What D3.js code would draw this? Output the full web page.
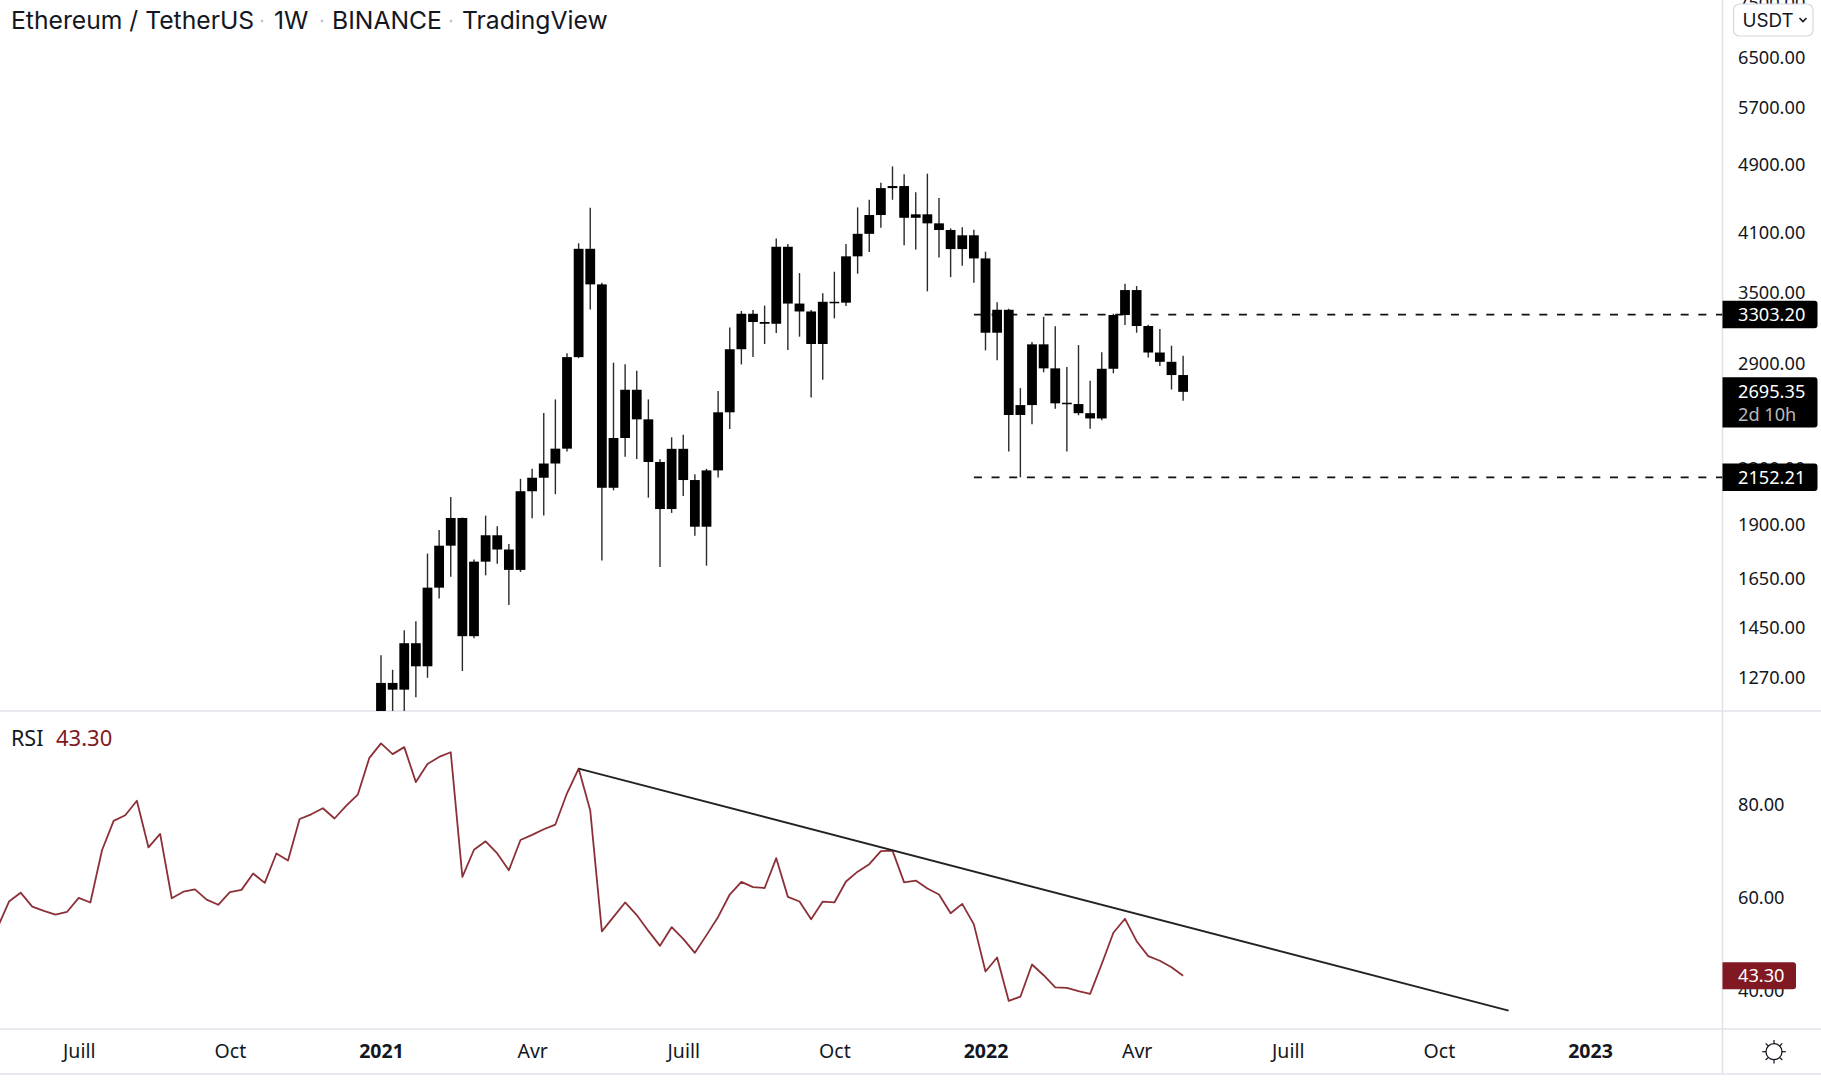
<!DOCTYPE html>
<html lang="fr">
  <head>
    <meta charset="UTF-8" />
    <title>Ethereum / TetherUS</title>
    <style>
      html,
      body {
        margin: 0;
        background: #fff;
      }
      svg {
        display: block;
      }
      text {
        font-family: "Noto Sans", sans-serif;
        fill: #131722;
      }
      .title {
        font-family: Inter, sans-serif;
        font-size: 24.7px;
      }
      .domain,
      .tick line {
        display: none;
      }
    </style>
    <script src="https://cdn.jsdelivr.net/npm/d3@7"></script>
  </head>
  <body>
    <div id="chart"></div>
    <script>
      // weekly bars, index 0 = first week of 2021
      const weekOpen = [
        1120, 1253, 1231, 1391, 1309, 1610, 1798, 1934, 1417, 1724,
        1848, 1780, 1687, 2075, 2150, 2232, 2321, 2953, 3927, 3576,
        2094, 2387, 2710, 2507, 2241, 1980, 2320, 2137, 1890, 2192,
        2554, 3015, 3310, 3239, 3224, 3948, 3400, 3330, 3057, 3416,
        3408, 3850, 4085, 4292, 4607, 4632, 4261, 4300, 4199, 4126,
        3924, 4069, 3829, 3149, 3345, 2536, 2603, 3054, 2867, 2619,
        2610, 2548, 2513, 2864, 3299, 3523, 3205, 2989, 2917, 2817,
      ];
      const weekHigh = [
        1348, 1297, 1439, 1474, 1761, 1874, 2044, 1936, 1734, 1946,
        1892, 1806, 2144, 2201, 2549, 2642, 2983, 3984, 4374, 3592,
        2910, 2898, 2849, 2642, 2257, 2391, 2408, 2170, 2201, 2701,
        3193, 3334, 3343, 3382, 4036, 3977, 3684, 3343, 3493, 3697,
        3977, 4379, 4468, 4673, 4878, 4777, 4556, 4785, 4488, 4144,
        4155, 4130, 3897, 3411, 3353, 2722, 3073, 3284, 3202, 2877,
        3048, 2775, 2991, 3310, 3582, 3560, 3216, 3179, 3043, 2964,
      ];
      const weekLow = [
        1060, 1150, 1161, 1207, 1270, 1565, 1657, 1293, 1409, 1663,
        1714, 1538, 1678, 1932, 1947, 2059, 2303, 2945, 3348, 1729,
        2080, 2272, 2258, 2040, 1700, 1960, 2049, 1846, 1706, 2152,
        2444, 2897, 2955, 3057, 3146, 3009, 3116, 2656, 2783, 3270,
        3378, 3678, 3894, 4150, 4468, 3963, 3920, 3511, 3839, 3645,
        3755, 3592, 3006, 2928, 2303, 2152, 2475, 2837, 2578, 2303,
        2534, 2445, 2501, 2830, 3213, 3149, 2951, 2884, 2712, 2633,
      ];
      const weekClose = [
        1253, 1231, 1391, 1309, 1610, 1798, 1934, 1417, 1724, 1848,
        1780, 1687, 2075, 2150, 2232, 2321, 2953, 3927, 3576, 2094,
        2387, 2710, 2507, 2241, 1980, 2320, 2137, 1890, 2192, 2554,
        3015, 3310, 3239, 3224, 3948, 3400, 3330, 3057, 3416, 3408,
        3850, 4085, 4292, 4607, 4632, 4261, 4300, 4199, 4126, 3924,
        4069, 3829, 3149, 3345, 2536, 2603, 3054, 2867, 2615, 2610,
        2548, 2513, 2864, 3299, 3523, 3205, 2989, 2917, 2817, 2695.35,
      ];

      // rsi starts 33 bars before the first candle
      const rsiFirstIndex = -33;
      const rsiValues = [
        53.5, 59.2, 61.1, 58.1, 57.2, 56.4, 57.0, 60.0, 59.0, 70.2, 76.5,
        77.7, 80.8, 70.8, 73.7, 59.9, 61.3, 61.8, 59.6, 58.5, 61.2, 61.7,
        65.2, 63.2, 69.5, 68.0, 76.9, 77.9, 79.2, 77.0, 79.7, 82.1, 90.0,
        93.1, 90.8, 92.3, 84.8, 88.7, 90.2, 91.2, 64.5, 70.3, 72.1, 69.5,
        65.9, 72.4, 73.5, 74.7, 75.7, 82.4, 87.7, 78.7, 52.8, 55.9, 59.0,
        56.3, 52.9, 49.7, 53.7, 51.2, 48.2, 52.0, 55.9, 60.7, 63.4, 62.3,
        62.1, 68.5, 60.2, 59.2, 55.4, 59.2, 59.0, 63.5, 65.6, 67.2, 70.0,
        70.1, 63.3, 63.7, 62.0, 60.7, 56.7, 58.7, 54.3, 44.2, 47.2, 37.9,
        38.8, 45.7, 43.4, 40.8, 40.7, 40.0, 39.4, 45.8, 52.5, 55.5, 50.7,
        47.5, 46.5, 45.1, 43.3,
      ];

      const priceTicks = [7500, 6500, 5700, 4900, 4100, 3500, 2900, 2200, 1900, 1650, 1450, 1270];
      const rsiTicks = [80, 60, 40];
      const timeTickIndex = [-26, -13, 0, 13, 26, 39, 52, 65, 78, 91, 104];
      const timeTickLabels = ["Juill", "Oct", "2021", "Avr", "Juill", "Oct", "2022", "Avr", "Juill", "Oct", "2023"];
      const yearLabels = ["2021", "2022", "2023"];

      const resistance = 3303.2;
      const support = 2152.21;
      const levelFirstIndex = 51;
      const lastPrice = 2695.35;
      const lastRsi = 43.3;
      const trendIndex = [17, 97];
      const trendRsi = [87.7, 35.8];

      const width = 1821;
      const height = 1080;
      const axisX = 1722.5;
      const pricePane = { top: 0, bottom: 711 };
      const rsiPane = { top: 711, bottom: 1029 };
      const timeBottom = 1074;
      const labelX = 1738;
      const labelSize = 18.2;
      const lineColor = "#e0e3eb";
      const rsiColor = "#801922";

      const svg = d3
        .select("#chart")
        .append("svg")
        .attr("width", width)
        .attr("height", height);

      const x = d3.scaleLinear().domain([0, 104]).range([381, 1590]);
      const y = d3.scaleLog().domain([1270, 6500]).range([677.8, 57.3]);
      const yRsi = d3.scaleLinear().domain([40, 80]).range([991.1, 804.5]);

      const defs = svg.append("defs");
      defs
        .append("clipPath")
        .attr("id", "price-clip")
        .append("rect")
        .attr("width", axisX)
        .attr("height", pricePane.bottom);
      defs
        .append("clipPath")
        .attr("id", "rsi-clip")
        .append("rect")
        .attr("y", rsiPane.top)
        .attr("width", axisX)
        .attr("height", rsiPane.bottom - rsiPane.top);

      // pane borders
      [pricePane.bottom, rsiPane.bottom, timeBottom].forEach((d) => {
        svg
          .append("line")
          .attr("x1", 0)
          .attr("x2", width)
          .attr("y1", d)
          .attr("y2", d)
          .attr("stroke", lineColor)
          .attr("stroke-width", 1.5);
      });
      svg
        .append("line")
        .attr("x1", axisX)
        .attr("x2", axisX)
        .attr("y1", 0)
        .attr("y2", timeBottom)
        .attr("stroke", lineColor)
        .attr("stroke-width", 1.5);

      // title
      const titleParts = [
        ["Ethereum / TetherUS", 11],
        ["1W", 274],
        ["BINANCE", 332],
        ["TradingView", 462],
      ];
      svg
        .selectAll(".title")
        .data(titleParts)
        .enter()
        .append("text")
        .attr("class", "title")
        .attr("x", (d) => d[1])
        .attr("y", 29)
        .text((d) => d[0]);
      [262, 322, 451].forEach((d) => {
        svg.append("circle").attr("cx", d).attr("cy", 21).attr("r", 1.4).attr("fill", "#c4c7cf");
      });

      // high / low levels
      const priceG = svg.append("g").attr("clip-path", "url(#price-clip)");
      priceG
        .selectAll(".level")
        .data([resistance, support])
        .enter()
        .append("line")
        .attr("class", "level")
        .attr("x1", x(levelFirstIndex))
        .attr("x2", axisX)
        .attr("y1", (d) => y(d))
        .attr("y2", (d) => y(d))
        .attr("stroke", "#111")
        .attr("stroke-width", 1.8)
        .attr("stroke-dasharray", "8 9.67");

      // candles
      const bars = weekOpen.map((d, i) => i);
      priceG
        .selectAll(".wick")
        .data(bars)
        .enter()
        .append("line")
        .attr("class", "wick")
        .attr("x1", (i) => x(i))
        .attr("x2", (i) => x(i))
        .attr("y1", (i) => y(weekHigh[i]))
        .attr("y2", (i) => y(weekLow[i]))
        .attr("stroke", "#2a2a2a")
        .attr("stroke-width", 1.4);
      priceG
        .selectAll(".bar")
        .data(bars)
        .enter()
        .append("rect")
        .attr("class", "bar")
        .attr("x", (i) => x(i) - 4.9)
        .attr("width", 9.8)
        .attr("y", (i) => y(Math.max(weekOpen[i], weekClose[i])))
        .attr("height", (i) =>
          Math.max(1.5, Math.abs(y(weekOpen[i]) - y(weekClose[i])))
        )
        .attr("fill", "#000");

      // rsi
      const rsiG = svg.append("g").attr("clip-path", "url(#rsi-clip)");
      const rsiLine = d3
        .line()
        .x((d, i) => x(rsiFirstIndex + i))
        .y((d) => yRsi(d));
      rsiG
        .append("path")
        .attr("d", rsiLine(rsiValues))
        .attr("fill", "none")
        .attr("stroke", rsiColor)
        .attr("stroke-width", 1.8)
        .attr("stroke-linejoin", "round")
        .attr("opacity", 0.9);
      rsiG
        .append("line")
        .attr("x1", x(trendIndex[0]))
        .attr("x2", x(trendIndex[1]))
        .attr("y1", yRsi(trendRsi[0]))
        .attr("y2", yRsi(trendRsi[1]))
        .attr("stroke", "#222")
        .attr("stroke-width", 1.9);

      svg.append("text").attr("x", 11).attr("y", 745.5).attr("font-size", 21.5).text("RSI");
      svg
        .append("text")
        .attr("x", 56)
        .attr("y", 745.5)
        .attr("font-size", 22)
        .style("fill", rsiColor)
        .text(lastRsi.toFixed(2));

      // axes
      const priceAxis = d3
        .axisRight(y)
        .tickValues(priceTicks)
        .tickFormat((d) => d.toFixed(2))
        .tickSize(0)
        .tickPadding(0);
      const gPrice = svg
        .append("g")
        .attr("transform", "translate(" + labelX + ",0)")
        .call(priceAxis);
      gPrice.selectAll("text").attr("font-size", labelSize);

      const rsiAxis = d3
        .axisRight(yRsi)
        .tickValues(rsiTicks)
        .tickFormat((d) => d.toFixed(2))
        .tickSize(0)
        .tickPadding(0);
      const gRsi = svg
        .append("g")
        .attr("transform", "translate(" + labelX + ",0)")
        .call(rsiAxis);
      gRsi.selectAll("text").attr("font-size", labelSize);

      const timeAxis = d3
        .axisBottom(x)
        .tickValues(timeTickIndex)
        .tickFormat((d, i) => timeTickLabels[i])
        .tickSize(0)
        .tickPadding(0);
      const gTime = svg
        .append("g")
        .attr("transform", "translate(0,1044)")
        .call(timeAxis);
      gTime
        .selectAll("text")
        .attr("font-size", 19.5)
        .attr("font-weight", (d, i) =>
          yearLabels.includes(timeTickLabels[i]) ? 700 : 400
        );

      // price badges
      function badge(cy, h, w, fill, label) {
        svg
          .append("path")
          .attr(
            "d",
            "M" + axisX + "," + (cy - h / 2) +
              "h" + (w - 3) + "a3,3 0 0 1 3,3v" + (h - 6) +
              "a3,3 0 0 1 -3,3h" + (3 - w) + "z"
          )
          .attr("fill", fill);
        svg
          .append("text")
          .attr("x", labelX)
          .attr("y", cy + 6.5)
          .attr("font-size", labelSize)
          .style("fill", "#fff")
          .text(label);
      }
      badge(y(resistance), 27.5, 95, "#000", resistance.toFixed(2));
      badge(y(support), 27.5, 95, "#000", support.toFixed(2));
      badge(yRsi(lastRsi), 27, 73.5, rsiColor, lastRsi.toFixed(2));

      const lastY = y(lastPrice);
      badge(lastY + 10.6, 50.3, 95, "#000", "");
      svg
        .append("text")
        .attr("x", labelX)
        .attr("y", lastY + 6.5)
        .attr("font-size", labelSize)
        .style("fill", "#fff")
        .text(lastPrice.toFixed(2));
      svg
        .append("text")
        .attr("x", labelX)
        .attr("y", lastY + 29.5)
        .attr("font-size", labelSize)
        .style("fill", "#b8b8b8")
        .text("2d 10h");

      // currency button
      svg
        .append("rect")
        .attr("x", 1733.5)
        .attr("y", 4)
        .attr("width", 79.5)
        .attr("height", 32)
        .attr("rx", 6)
        .attr("fill", "#fff")
        .attr("stroke", "#d6d8e0")
        .attr("stroke-width", 1.2);
      svg
        .append("text")
        .attr("x", 1742.5)
        .attr("y", 27)
        .style("font-family", "Inter, sans-serif")
        .attr("font-size", 18.8)
        .text("USDT");
      svg
        .append("path")
        .attr("d", "M1799.5,18l3.5,3.5l3.5,-3.5")
        .attr("fill", "none")
        .attr("stroke", "#131722")
        .attr("stroke-width", 1.6);

      // sun icon
      const sun = svg.append("g").attr("transform", "translate(1774,1051.7)");
      sun
        .append("circle")
        .attr("r", 8)
        .attr("fill", "none")
        .attr("stroke", "#131722")
        .attr("stroke-width", 1.3);
      d3.range(8).forEach((i) => {
        const a = (i * Math.PI) / 4;
        sun
          .append("line")
          .attr("x1", 8 * Math.cos(a))
          .attr("y1", 8 * Math.sin(a))
          .attr("x2", 11.8 * Math.cos(a))
          .attr("y2", 11.8 * Math.sin(a))
          .attr("stroke", "#131722")
          .attr("stroke-width", 1.2);
      });
    </script>
  </body>
</html>
